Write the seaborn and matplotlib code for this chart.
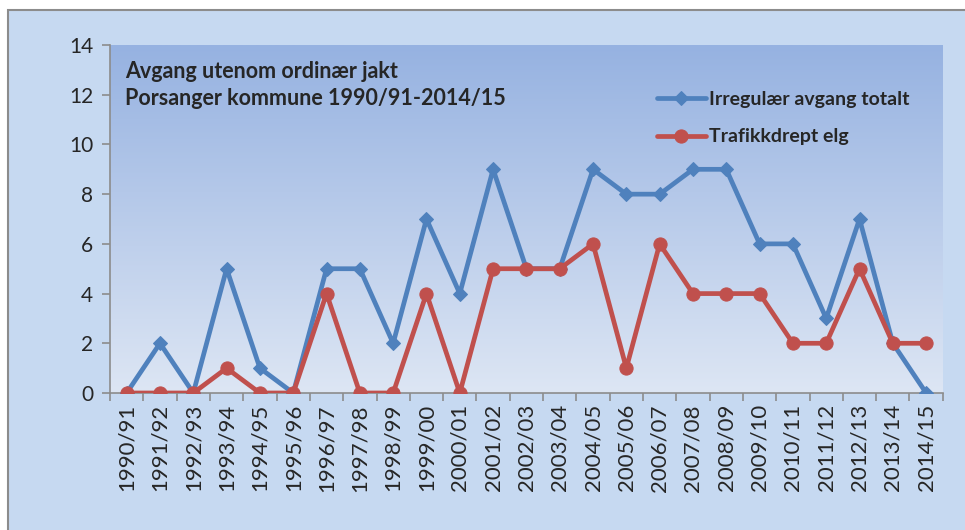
import numpy as np
import pandas as pd
import matplotlib
matplotlib.use("Agg")
import matplotlib.pyplot as plt
from matplotlib.patches import Rectangle
from matplotlib.colors import LinearSegmentedColormap
from matplotlib.ticker import FixedLocator, NullFormatter
import seaborn as sns

seasons = ['1990/91', '1991/92', '1992/93', '1993/94', '1994/95', '1995/96',
           '1996/97', '1997/98', '1998/99', '1999/00', '2000/01', '2001/02',
           '2002/03', '2003/04', '2004/05', '2005/06', '2006/07', '2007/08',
           '2008/09', '2009/10', '2010/11', '2011/12', '2012/13', '2013/14',
           '2014/15']
irregular = [0, 2, 0, 5, 1, 0, 5, 5, 2, 7, 4, 9, 5, 5, 9, 8, 8, 9, 9, 6, 6, 3, 7, 2, 0]
traffic = [0, 0, 0, 1, 0, 0, 4, 0, 0, 4, 0, 5, 5, 5, 6, 1, 6, 4, 4, 4, 2, 2, 5, 2, 2]

BLUE = '#4f81bd'
RED = '#c0504d'

sns.set_theme(style="white")
plt.rcParams['font.family'] = ['Lato', 'DejaVu Sans']

df = pd.DataFrame({'season': seasons, 'irr': irregular, 'traf': traffic})

fig = plt.figure(figsize=(9.65, 5.30), dpi=100, facecolor='white')
# light blue chart area with grey frame (left/top visible only)
fig.patches.append(Rectangle((8 / 965, -0.05), 1.1, 1 - 10 / 530 + 0.05,
                             transform=fig.transFigure, facecolor='#c6d9f1',
                             edgecolor='#8c8c8c', lw=1.5, zorder=-5))

ax = fig.add_axes([0.114, 0.2585, 0.863, 0.6565])
ax.set_zorder(1)

# gradient background of the plot area
cmap = LinearSegmentedColormap.from_list('bg', ['#dde6f4', '#96b2e1'])
grad = np.linspace(0, 1, 256).reshape(-1, 1)
ax.imshow(grad, aspect='auto', cmap=cmap, origin='lower',
          extent=[-0.5, len(seasons) - 0.5, 0, 14], zorder=0)

sns.lineplot(data=df, x='season', y='irr', ax=ax, color=BLUE, lw=3.4,
             marker='D', markersize=7.5, markeredgecolor=BLUE,
             label='Irregulær avgang totalt', zorder=3)
sns.lineplot(data=df, x='season', y='traf', ax=ax, color=RED, lw=3.4,
             marker='o', markersize=9.5, markeredgecolor=RED,
             label='Trafikkdrept elg', zorder=4)

ax.set_xlim(-0.5, len(seasons) - 0.5)
ax.set_ylim(0, 14)
ax.set_yticks(range(0, 15, 2))
ax.set_xlabel('')
ax.set_ylabel('')
ax.set_xticks(range(len(seasons)))
ax.set_xticklabels(seasons, rotation=90)
ax.xaxis.set_minor_locator(FixedLocator(np.arange(-0.5, len(seasons), 1)))
ax.xaxis.set_minor_formatter(NullFormatter())
ax.tick_params(axis='x', which='major', length=0, labelsize=16, pad=8)
ax.tick_params(axis='x', which='minor', length=6, width=1.2, color='#8c8c8c',
               bottom=True)
ax.tick_params(axis='y', length=6, width=1.2, color='#8c8c8c', left=True,
               labelsize=15, pad=6)
for s in ['top', 'right']:
    ax.spines[s].set_visible(False)
for s in ['left', 'bottom']:
    ax.spines[s].set_color('#8c8c8c')
    ax.spines[s].set_linewidth(1.2)

ax.text(0.018, 0.925, 'Avgang utenom ordinær jakt', transform=ax.transAxes,
        fontsize=15.5, fontweight='bold', va='center', ha='left')
ax.text(0.018, 0.845, 'Porsanger kommune 1990/91-2014/15', transform=ax.transAxes,
        fontsize=15.5, fontweight='bold', va='center', ha='left')

leg = ax.legend(loc='upper left', bbox_to_anchor=(0.636, 0.918), frameon=False,
                prop={'weight': 'bold', 'size': 14}, labelspacing=1.05,
                handlelength=2.5, handletextpad=0.15)

fig.savefig('out.png', dpi=100, facecolor=fig.get_facecolor())
